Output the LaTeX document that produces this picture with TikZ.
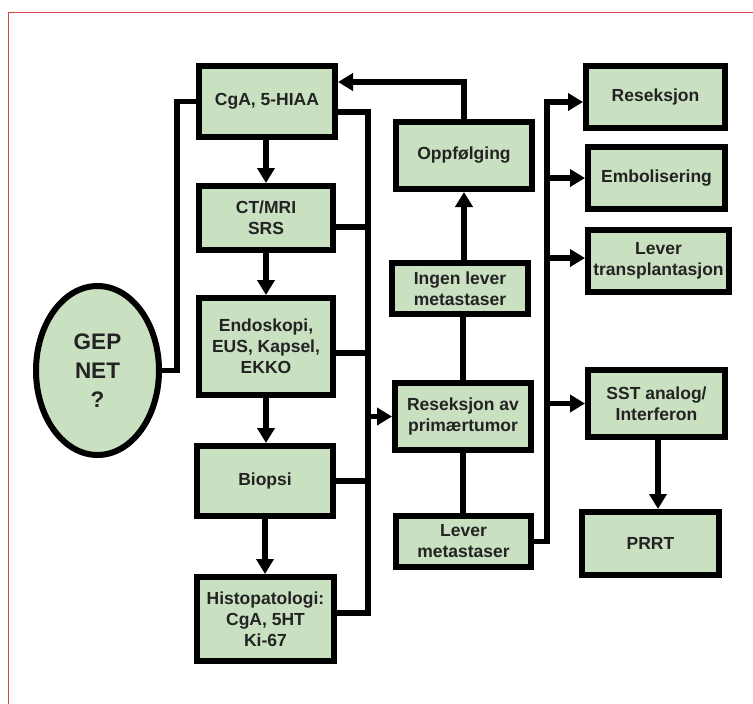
\documentclass[tikz,border=0pt]{standalone}
\usepackage{fontspec}
\setmainfont{Liberation Sans}
\usetikzlibrary{arrows.meta}
\definecolor{boxgreen}{RGB}{201,224,193}
\definecolor{framered}{RGB}{214,72,72}
\definecolor{txt}{RGB}{35,35,35}
\tikzset{
  box/.style={draw=black, line width=6pt, fill=boxgreen, text=txt, align=center,
    inner sep=0pt, font=\bfseries\fontsize{17.5}{21}\selectfont},
  oval/.style={ellipse, draw=black, line width=6pt, fill=boxgreen, text=txt, align=center,
    inner sep=0pt, font=\bfseries\fontsize{22.5}{29}\selectfont},
  conn/.style={draw=black, line width=5.5pt, line join=miter},
  arr/.style={conn, -{Triangle[width=17pt,length=15pt]}}
}
\usetikzlibrary{shapes.geometric}
\begin{document}
\begin{tikzpicture}[x=1pt,y=-1pt]
\useasboundingbox (0,0) rectangle (753,704);
% red frame (top and left)
\draw[framered, line width=1.5pt] (8.7,704) -- (8.7,12.3) -- (753,12.3);

% left column
\node[box, minimum width=136pt, minimum height=71pt] (cga) at (267,101.5) {CgA, 5-HIAA};
\node[box, minimum width=134pt, minimum height=64pt] (ct) at (266,218) {CT/MRI\\SRS};
\node[box, minimum width=134pt, minimum height=97pt] (endo) at (266,346.5) {Endoskopi,\\EUS, Kapsel,\\EKKO};
\node[box, minimum width=136pt, minimum height=70pt] (biopsi) at (265,481) {Biopsi};
\node[box, minimum width=137pt, minimum height=84pt] (histo) at (265.5,619) {Histopatologi:\\CgA, 5HT\\Ki-67};

\node[oval, minimum width=123pt, minimum height=169pt] (gep) at (97.5,370.5) {GEP\\NET\\?};

% middle column
\node[box, minimum width=136pt, minimum height=67pt] (opp) at (464,155.5) {Oppfølging};
\node[box, minimum width=136pt, minimum height=51pt] (ingen) at (460,288.5) {Ingen lever\\metastaser};
\node[box, minimum width=136pt, minimum height=67pt] (respr) at (463,416.5) {Reseksjon av\\primærtumor};
\node[box, minimum width=135pt, minimum height=51pt] (lever) at (463.5,541.5) {Lever\\metastaser};

% right column
\node[box, minimum width=139pt, minimum height=62pt] (res) at (655.5,97) {Reseksjon};
\node[box, minimum width=137pt, minimum height=62pt] (emb) at (656.5,178) {Embolisering};
\node[box, minimum width=141pt, minimum height=62pt] (trans) at (658.5,261) {Lever\\transplantasjon};
\node[box, minimum width=137pt, minimum height=67pt] (sst) at (656.5,403.5) {SST analog/\\Interferon};
\node[box, minimum width=137pt, minimum height=63pt] (prrt) at (650.5,543.5) {PRRT};

% rails
\coordinate (lrail) at (177,0);
\coordinate (rrail) at (368,0);
\coordinate (mrail) at (547,0);

% GEP to CgA
\draw[conn] (gep.east) -- (gep.east -| lrail) -- (lrail |- cga.west) -- (cga.west);

% left column arrows
\draw[arr] (ct.north |- cga.south) -- (ct.north);
\draw[arr] (ct.south) -- (endo.north);
\draw[arr] (endo.south) -- (endo.south |- biopsi.north);
\draw[arr] (biopsi.south) -- (biopsi.south |- histo.north);

% right rail of left column
\draw[conn] ([yshift=-10.5pt]cga.east) -| ([yshift=6pt]rrail |- histo.east) -- ([yshift=6pt]histo.east);
\draw[conn] ([yshift=-9pt]ct.east) -- ([yshift=-9pt]ct.east -| rrail);
\draw[conn] ([yshift=-6.5pt]endo.east) -- ([yshift=-6.5pt]endo.east -| rrail);
\draw[conn] (biopsi.east) -- (biopsi.east -| rrail);
\draw[arr] ([xshift=-3pt]rrail |- respr.west) -- (respr.west);

% middle column
\draw[arr] (opp.north) |- ([yshift=19.5pt]cga.east);
\draw[arr] (opp.south |- ingen.north) -- (opp.south);
\draw[conn] (respr.north) -- (respr.north |- ingen.south);
\draw[conn] (respr.south) -- (respr.south |- lever.north);

% lever metastaser to therapies
\draw[arr] (lever.east) -| ([yshift=-5pt]mrail |- res.west) -- ([yshift=-5pt]res.west);
\draw[arr] (mrail |- emb.west) -- (emb.west);
\draw[arr] ([yshift=3pt]mrail |- trans.west) -- ([yshift=3pt]trans.west);
\draw[arr] (mrail |- sst.west) -- (sst.west);
\draw[arr] ([xshift=1.5pt]sst.south) -- ([xshift=1.5pt]sst.south |- prrt.north);
\end{tikzpicture}
\end{document}
